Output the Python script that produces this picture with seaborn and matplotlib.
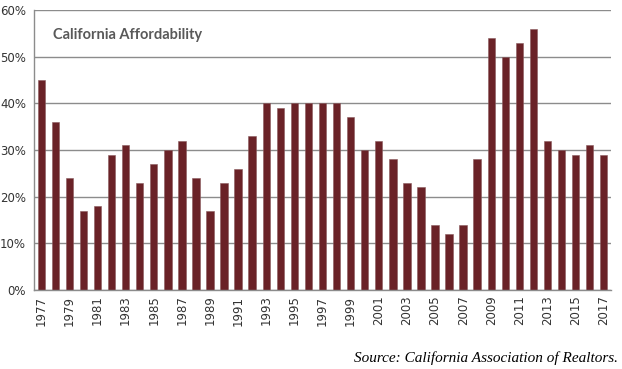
import numpy as np
import pandas as pd
import matplotlib
matplotlib.use("Agg")
import matplotlib.pyplot as plt
import seaborn as sns
from matplotlib.ticker import FixedLocator

years = list(range(1977, 2018))
affordability = [45, 36, 24, 17, 18, 29, 31, 23, 27, 30,
                 32, 24, 17, 23, 26, 33, 40, 39, 40, 40,
                 40, 40, 37, 30, 32, 28, 23, 22, 14, 12,
                 14, 28, 54, 50, 53, 56, 32, 30, 29, 31, 29]
y_ticks = [0, 10, 20, 30, 40, 50, 60]
title = "California Affordability"
source = "Source: California Association of Realtors."

df = pd.DataFrame({"year": [str(y) for y in years], "pct": affordability})

sns.set_style("white")
fig = plt.figure(figsize=(6.22, 3.69), dpi=100)
ax = fig.add_axes([0.055, 0.214, 0.927, 0.759])

sns.barplot(data=df, x="year", y="pct", color="#6a2227", width=0.53,
            saturation=1, edgecolor="#8a5a5d", linewidth=0.4, ax=ax)

ax.set_ylim(0, 60)
ax.set_xlim(-0.5, len(years) - 0.5)
ax.set_yticks(y_ticks)
ax.set_yticklabels([f"{t}%" for t in y_ticks], fontsize=8.5, color="#333333")
ax.yaxis.grid(True, color="#8c8c8c", linewidth=1)
ax.set_axisbelow(True)

# year labels on every other bar, tick marks between categories
ax.set_xticks(range(0, len(years), 2))
ax.set_xticklabels([str(y) for y in years[::2]], rotation=90, fontsize=8.5, color="#333333")
ax.tick_params(axis="x", which="major", length=0, pad=4)
ax.xaxis.set_minor_locator(FixedLocator(np.arange(-0.5, len(years), 1)))
ax.tick_params(axis="x", which="minor", length=4, color="#8c8c8c", width=1)
ax.tick_params(axis="y", length=4, color="#8c8c8c", width=1, pad=2)

for s in ["top", "right"]:
    ax.spines[s].set_visible(False)
ax.spines["left"].set_color("#8c8c8c")
ax.spines["bottom"].set_color("#8c8c8c")
ax.spines["left"].set_linewidth(1)
ax.spines["bottom"].set_linewidth(1)

ax.set_xlabel("")
ax.set_ylabel("")

ax.text(0.032, 0.935, title, transform=ax.transAxes, fontsize=10.5, fontweight="bold",
        color="#595959", ha="left", va="top", family=["Lato", "DejaVu Sans"])

fig.text(0.993, 0.012, source, ha="right", va="bottom", fontsize=11,
         family=["Liberation Serif"], style="italic", color="black")

fig.savefig("out.png", dpi=100)
